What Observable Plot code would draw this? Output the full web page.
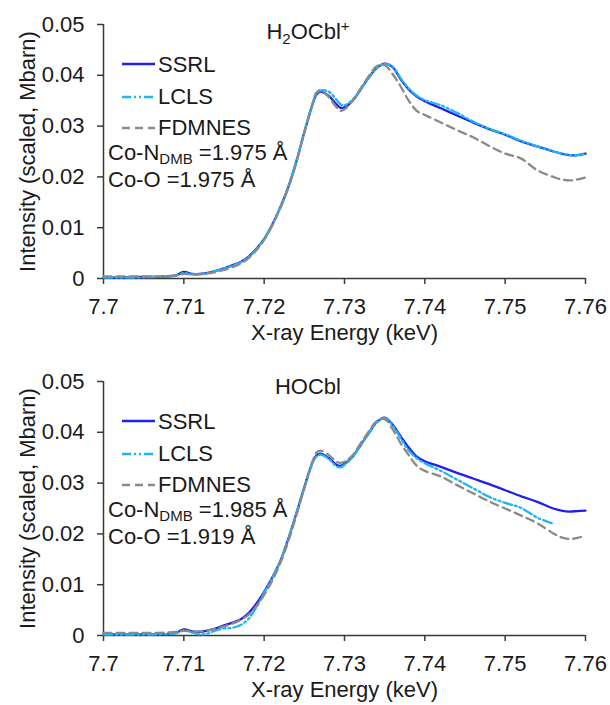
<!DOCTYPE html>
<html>
<head>
<meta charset="utf-8">
<script src="https://cdn.jsdelivr.net/npm/d3@7"></script>
<script src="https://cdn.jsdelivr.net/npm/@observablehq/plot@0.6"></script>
<style>
  html, body { margin: 0; padding: 0; background: #fff; overflow: hidden; }
  #chart { width: 610px; }
  #chart svg { display: block; }
</style>
</head>
<body>
<div id="chart"></div>
<script>
// ---------- data ----------
const energy = [7.700, 7.702, 7.704, 7.706, 7.708, 7.709, 7.710, 7.711, 7.712, 7.713,
  7.714, 7.715, 7.716, 7.717, 7.718, 7.719, 7.720, 7.721, 7.722, 7.723,
  7.724, 7.725, 7.726, 7.7265, 7.727, 7.728, 7.729, 7.7295, 7.730, 7.731,
  7.732, 7.733, 7.734, 7.735, 7.736, 7.737, 7.738, 7.739, 7.740, 7.742,
  7.744, 7.746, 7.748, 7.750, 7.752, 7.754, 7.756, 7.757, 7.758, 7.759, 7.760];

// H2OCbl+ panel
const h2oSSRL = [0.0002, 0.0002, 0.0003, 0.0003, 0.0004, 0.0006, 0.0013, 0.0009, 0.0009, 0.0011,
  0.0015, 0.0020, 0.0026, 0.0032, 0.0042, 0.0058, 0.0078, 0.0106, 0.0140, 0.0180,
  0.0230, 0.0288, 0.0342, 0.0362, 0.0368, 0.0360, 0.0343, 0.0336, 0.0337, 0.0350,
  0.0372, 0.0395, 0.0414, 0.0423, 0.0416, 0.0392, 0.0372, 0.0358, 0.0349, 0.0335,
  0.0321, 0.0307, 0.0294, 0.0283, 0.0270, 0.0260, 0.0250, 0.0246, 0.0243, 0.0243, 0.0246];
const h2oLCLS = [0.0002, 0.0002, 0.0002, 0.0003, 0.0004, 0.0005, 0.0011, 0.0008, 0.0009, 0.0011,
  0.0015, 0.0020, 0.0025, 0.0031, 0.0041, 0.0057, 0.0078, 0.0106, 0.0140, 0.0180,
  0.0231, 0.0289, 0.0343, 0.0364, 0.0370, 0.0368, 0.0352, 0.0343, 0.0341, 0.0352,
  0.0372, 0.0395, 0.0414, 0.0422, 0.0417, 0.0394, 0.0374, 0.0360, 0.0351, 0.0341,
  0.0326, 0.0309, 0.0295, 0.0284, 0.0271, 0.0260, 0.0250, 0.0246, 0.0243, 0.0243, 0.0246];
const h2oFDMNES = [0.0004, 0.0004, 0.0004, 0.0004, 0.0005, 0.0006, 0.0009, 0.0008, 0.0008, 0.0010,
  0.0013, 0.0017, 0.0022, 0.0029, 0.0039, 0.0055, 0.0076, 0.0104, 0.0138, 0.0178,
  0.0228, 0.0287, 0.0343, 0.0366, 0.0371, 0.0358, 0.0337, 0.0330, 0.0333, 0.0350,
  0.0374, 0.0398, 0.0418, 0.0420, 0.0402, 0.0378, 0.0350, 0.0330, 0.0322, 0.0307,
  0.0292, 0.0278, 0.0261, 0.0246, 0.0236, 0.0213, 0.0200, 0.0195, 0.0193, 0.0195, 0.0199];

// HOCbl panel
const hoSSRL = [0.0002, 0.0002, 0.0002, 0.0002, 0.0003, 0.0005, 0.0012, 0.0008, 0.0007, 0.0010,
  0.0014, 0.0020, 0.0025, 0.0031, 0.0043, 0.0062, 0.0086, 0.0114, 0.0146, 0.0190,
  0.0240, 0.0292, 0.0340, 0.0354, 0.0358, 0.0350, 0.0336, 0.0334, 0.0338, 0.0352,
  0.0375, 0.0398, 0.0420, 0.0429, 0.0415, 0.0392, 0.0370, 0.0352, 0.0343, 0.0332,
  0.0320, 0.0309, 0.0298, 0.0286, 0.0274, 0.0263, 0.0250, 0.0246, 0.0244, 0.0245, 0.0246];
const hoLCLS = [0.0002, 0.0002, 0.0002, 0.0002, 0.0003, 0.0004, 0.0010, 0.0006, 0.0002, 0.0004,
  0.0010, 0.0014, 0.0015, 0.0020, 0.0032, 0.0055, 0.0084, 0.0113, 0.0146, 0.0190,
  0.0240, 0.0290, 0.0338, 0.0352, 0.0356, 0.0348, 0.0333, 0.0331, 0.0336, 0.0351,
  0.0374, 0.0397, 0.0419, 0.0428, 0.0413, 0.0388, 0.0364, 0.0349, 0.0339, 0.0324,
  0.0307, 0.0290, 0.0273, 0.0261, 0.0251, 0.0232, 0.0220, null, null, null, null];
const hoFDMNES = [0.0005, 0.0005, 0.0005, 0.0005, 0.0006, 0.0007, 0.0009, 0.0008, 0.0008, 0.0010,
  0.0013, 0.0018, 0.0023, 0.0030, 0.0040, 0.0057, 0.0080, 0.0108, 0.0142, 0.0185,
  0.0236, 0.0290, 0.0342, 0.0360, 0.0364, 0.0356, 0.0342, 0.0340, 0.0342, 0.0355,
  0.0378, 0.0401, 0.0422, 0.0426, 0.0406, 0.0378, 0.0355, 0.0334, 0.0324, 0.0313,
  0.0296, 0.0280, 0.0264, 0.0250, 0.0236, 0.0221, 0.0201, 0.0193, 0.0190, 0.0192, 0.0197];

const seriesNames = ["SSRL", "LCLS", "FDMNES"];
const seriesColors = ["#1f1fee", "#1cb6f0", "#8a8a8a"];
const seriesDash = [null, "9,3,2,3,2,3", "8,5"];

const xTicks = [7.7, 7.71, 7.72, 7.73, 7.74, 7.75, 7.76];
const yTicks = [0, 0.01, 0.02, 0.03, 0.04, 0.05];
const xLabel = "X-ray Energy (keV)";
const yLabel = "Intensity (scaled, Mbarn)";

const panelTitles = [["H", "2", "OCbl", "+"], ["HOCbl", "", "", ""]];
const bondNdmb = ["1.975", "1.985"];
const bondO = ["1.975", "1.919"];

// ---------- drawing ----------
const FONT = "'Liberation Sans', Arial, Helvetica, sans-serif";
const AX = "#3a3a3a";

function drawPanel(seriesValues, height, idx) {
  const marginBottom = height - 278;
  const rows = [];
  seriesNames.forEach((s, k) => {
    energy.forEach((e, i) => rows.push({series: s, E: e, I: seriesValues[k][i]}));
  });
  const lines = seriesNames.map((s, k) =>
    Plot.line(rows.filter(r => r.series === s), {
      x: "E", y: "I",
      stroke: seriesColors[k],
      strokeWidth: 2.3,
      strokeDasharray: seriesDash[k],
      curve: "catmull-rom"
    })
  );
  const svg = Plot.plot({
    width: 610,
    height,
    marginTop: 24,
    marginLeft: 103,
    marginRight: 25,
    marginBottom,
    style: {fontFamily: FONT, fontSize: "22px", color: "#1a1a1a", background: "#fff", overflow: "visible"},
    x: {domain: [7.7, 7.76], label: null},
    y: {domain: [0, 0.05], label: null},
    marks: [
      Plot.axisX({ticks: xTicks, tickFormat: d => String(d), tickSize: 6, tickPadding: 14,
        stroke: AX, strokeWidth: 1.5, fill: "#1a1a1a",
        label: xLabel, labelAnchor: "center", labelOffset: 61, labelArrow: false}),
      Plot.axisY({ticks: yTicks, tickFormat: d => String(d), tickSize: 6, tickPadding: 13,
        stroke: AX, strokeWidth: 1.5, fill: "#1a1a1a",
        label: yLabel, labelAnchor: "center", labelOffset: 84, labelArrow: false}),
      Plot.ruleY([0], {stroke: AX, strokeWidth: 1.5}),
      Plot.ruleX([7.7], {stroke: AX, strokeWidth: 1.5}),
      ...lines
    ]
  });

  // annotations: title, legend, bond lengths
  const g = d3.select(svg).append("g")
    .attr("font-family", FONT).attr("font-size", 22).attr("fill", "#1a1a1a")
    .attr("text-anchor", "start");

  const [t1, tsub, t2, tsup] = panelTitles[idx];
  const title = g.append("text").attr("x", 308).attr("y", idx === 0 ? 39 : 37).attr("text-anchor", "middle");
  title.append("tspan").text(t1);
  if (tsub) title.append("tspan").attr("font-size", 15).attr("dy", 5).text(tsub);
  if (t2) title.append("tspan").attr("dy", tsub ? -5 : 0).text(t2);
  if (tsup) title.append("tspan").attr("font-size", 15).attr("dy", -8).text(tsup);

  const legY = [64, 97, 128];
  const legBase = [72, 104, 135];
  seriesNames.forEach((s, k) => {
    g.append("line")
      .attr("x1", 122).attr("x2", 155).attr("y1", legY[k]).attr("y2", legY[k])
      .attr("stroke", seriesColors[k]).attr("stroke-width", 2.3)
      .attr("stroke-dasharray", seriesDash[k] || null);
    g.append("text").attr("x", 158).attr("y", legBase[k]).text(s);
  });

  const b1 = g.append("text").attr("x", 108).attr("y", 160);
  b1.append("tspan").text("Co-N");
  b1.append("tspan").attr("font-size", 15).attr("dy", 4).text("DMB");
  b1.append("tspan").attr("dy", -4).text(" =" + bondNdmb[idx] + " Å");
  g.append("text").attr("x", 108).attr("y", 187).text("Co-O =" + bondO[idx] + " Å");

  return svg;
}

const chart = document.getElementById("chart");
chart.appendChild(drawPanel([h2oSSRL, h2oLCLS, h2oFDMNES], 357, 0));
chart.appendChild(drawPanel([hoSSRL, hoLCLS, hoFDMNES], 348, 1));
</script>
</body>
</html>
